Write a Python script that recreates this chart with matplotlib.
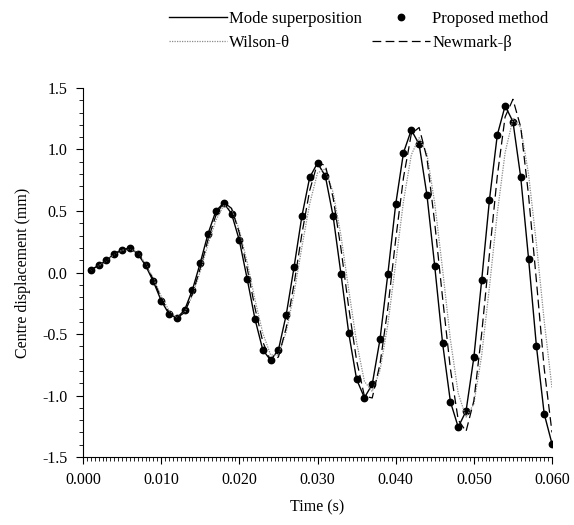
import numpy as np
import matplotlib
matplotlib.use("Agg")
import matplotlib.pyplot as plt
from matplotlib.ticker import MultipleLocator, FormatStrFormatter

plt.rcParams['font.family'] = ['Liberation Serif', 'DejaVu Serif']
plt.rcParams['mathtext.fontset'] = 'stix'

# time steps (s)
t = np.arange(1, 61) * 0.001

# centre displacement (mm)
mode_sup = [0.022, 0.057, 0.098, 0.153, 0.185, 0.198, 0.153, 0.057, -0.073, -0.229,
            -0.337, -0.370, -0.305, -0.141, 0.078, 0.316, 0.500, 0.566, 0.479, 0.261,
            -0.051, -0.378, -0.629, -0.713, -0.629, -0.343, 0.044, 0.457, 0.773, 0.890,
            0.784, 0.457, -0.011, -0.495, -0.868, -1.018, -0.909, -0.541, -0.011, 0.553,
            0.974, 1.159, 1.042, 0.629, 0.049, -0.574, -1.050, -1.257, -1.127, -0.691,
            -0.065, 0.593, 1.118, 1.355, 1.227, 0.773, 0.112, -0.596, -1.149, -1.393]

proposed = [0.022, 0.057, 0.098, 0.153, 0.185, 0.198, 0.153, 0.057, -0.073, -0.229,
            -0.337, -0.370, -0.305, -0.141, 0.076, 0.316, 0.500, 0.566, 0.479, 0.261,
            -0.051, -0.378, -0.629, -0.713, -0.629, -0.343, 0.044, 0.457, 0.773, 0.887,
            0.784, 0.457, -0.011, -0.495, -0.868, -1.018, -0.909, -0.541, -0.011, 0.553,
            0.974, 1.159, 1.042, 0.629, 0.049, -0.574, -1.050, -1.257, -1.127, -0.691,
            -0.065, 0.593, 1.118, 1.355, 1.227, 0.773, 0.112, -0.596, -1.149, -1.393]

wilson = [0.021, 0.055, 0.095, 0.147, 0.181, 0.194, 0.162, 0.072, -0.047, -0.193,
          -0.308, -0.365, -0.327, -0.186, 0.009, 0.231, 0.424, 0.546, 0.519, 0.344,
          0.085, -0.220, -0.493, -0.670, -0.671, -0.482, -0.169, 0.206, 0.559, 0.809,
          0.843, 0.649, 0.300, -0.142, -0.567, -0.885, -0.967, -0.794, -0.422, 0.075,
          0.579, 0.956, 1.096, 0.963, 0.562, 0.026, -0.545, -0.982, -1.176, -1.068,
          -0.674, -0.115, 0.483, 0.975, 1.246, 1.180, 0.798, 0.237, -0.394, -0.940]

newmark = [0.021, 0.056, 0.096, 0.150, 0.183, 0.197, 0.160, 0.067, -0.058, -0.209,
           -0.325, -0.369, -0.326, -0.173, 0.035, 0.269, 0.464, 0.571, 0.522, 0.322,
           0.035, -0.288, -0.563, -0.717, -0.687, -0.448, -0.094, 0.313, 0.667, 0.889,
           0.872, 0.606, 0.194, -0.288, -0.715, -1.005, -1.020, -0.742, -0.288, 0.267,
           0.772, 1.127, 1.179, 0.930, 0.400, -0.207, -0.784, -1.198, -1.292, -1.044,
           -0.497, 0.153, 0.784, 1.265, 1.408, 1.181, 0.626, -0.065, -0.780, -1.300]

fig = plt.figure(figsize=(5.74, 5.25), dpi=100)
ax = fig.add_axes([0.1446, 0.1295, 0.8171, 0.7029])

l1, = ax.plot(t, mode_sup, color='black', lw=1.0, label='Mode superposition')
l2, = ax.plot(t, proposed, 'o', color='black', ms=4.6, label='Proposed method')
l3, = ax.plot(t, wilson, color='#8a8a8a', lw=0.9, ls=(0, (1, 1)), label='Wilson-θ')
l4, = ax.plot(t, newmark, color='black', lw=0.9, ls=(0, (7, 3.5)), label='Newmark-β')

ax.set_xlim(0, 0.060)
ax.set_ylim(-1.5, 1.5)
ax.xaxis.set_major_locator(MultipleLocator(0.010))
ax.xaxis.set_minor_locator(MultipleLocator(0.0005))
ax.yaxis.set_major_locator(MultipleLocator(0.5))
ax.yaxis.set_minor_locator(MultipleLocator(0.1))
ax.xaxis.set_major_formatter(FormatStrFormatter('%.3f'))
ax.yaxis.set_major_formatter(FormatStrFormatter('%.1f'))
ax.tick_params(which='major', direction='out', length=5, width=0.8, labelsize=11.5, pad=6)
ax.tick_params(which='minor', direction='out', length=3, width=0.6)

for side in ('top', 'right'):
    ax.spines[side].set_visible(False)
for side in ('left', 'bottom'):
    ax.spines[side].set_linewidth(0.8)

ax.set_xlabel('Time (s)', fontsize=11.5, labelpad=8)
ax.set_ylabel('Centre displacement (mm)', fontsize=11.5, labelpad=8)

# two rows: (mode, proposed) over (wilson, newmark); ncol fills column-wise
fig.legend(handles=[l1, l3, l2, l4], loc='upper left', bbox_to_anchor=(0.288, 0.985),
           ncol=2, frameon=False, fontsize=12, handlelength=3.5, handletextpad=0.15,
           columnspacing=0.55, labelspacing=0.45, borderaxespad=0.0, borderpad=0.2)

fig.savefig('out.png', dpi=100)
